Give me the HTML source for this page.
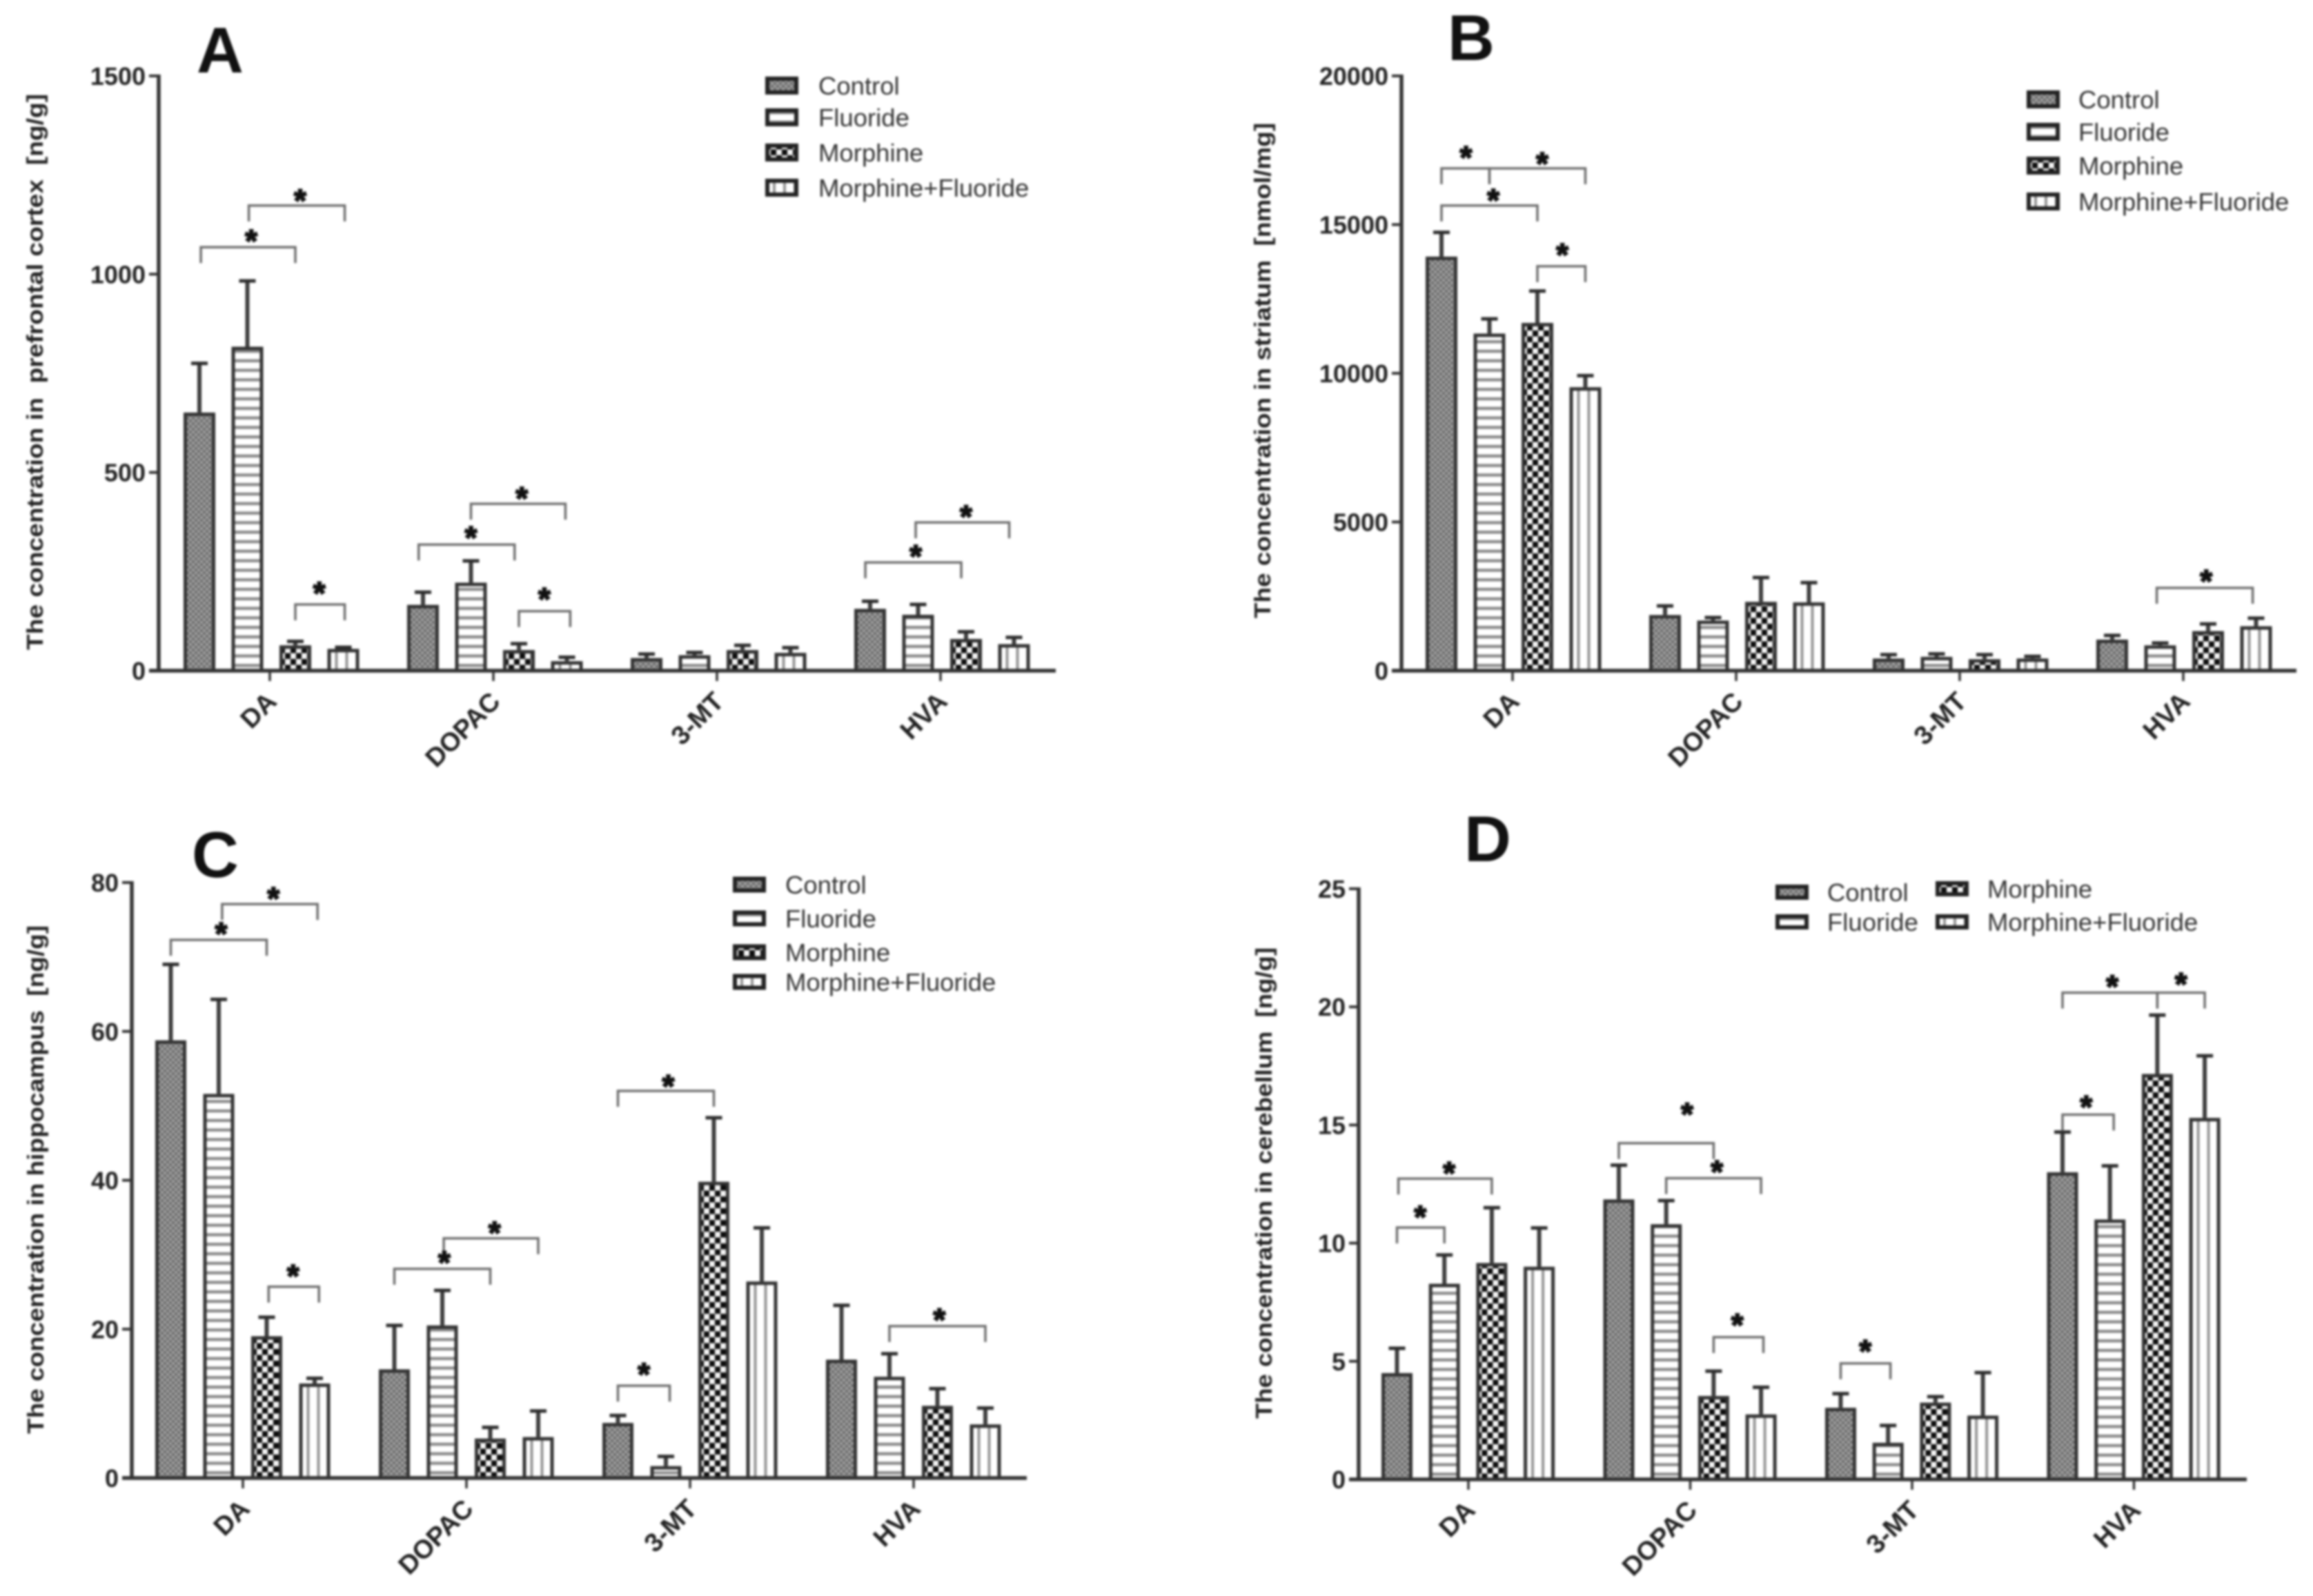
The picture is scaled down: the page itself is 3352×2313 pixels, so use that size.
<!DOCTYPE html>
<html lang="en">
<head>
<meta charset="utf-8">
<title>Monoamine concentrations by brain region</title>
<style>
html,body{margin:0;padding:0;background:#fff;width:3352px;height:2313px;overflow:hidden}
#figure{display:block;filter:blur(1.5px);font-family:"Liberation Sans",Arial,sans-serif}
</style>
</head>
<body>
<svg id="figure" xmlns="http://www.w3.org/2000/svg" width="3352" height="2313" viewBox="0 0 3352 2313">
<defs>
<pattern id="pat-control" patternUnits="userSpaceOnUse" width="8" height="8"><rect width="8" height="8" fill="#6a6a6a"/><rect width="4" height="4" fill="#a2a2a2"/><rect x="4" y="4" width="4" height="4" fill="#a2a2a2"/></pattern>
<pattern id="pat-fluoride" patternUnits="userSpaceOnUse" width="14" height="13.8"><rect width="14" height="13.8" fill="#fff"/><rect y="4" width="14" height="4.5" fill="#8a8a8a"/></pattern>
<pattern id="pat-morphine" patternUnits="userSpaceOnUse" width="16" height="17"><rect width="16" height="17" fill="#f4f4f4"/><rect width="8" height="8.5" fill="#0c0c0c"/><rect x="8" y="8.5" width="8" height="8.5" fill="#0c0c0c"/></pattern>
<pattern id="pat-morphine-fluoride" patternUnits="userSpaceOnUse" width="15" height="10"><rect width="15" height="10" fill="#fff"/><rect x="11" width="4.5" height="10" fill="#939393"/></pattern>
</defs>
</svg>
<script>
/* ---- shared categories and series ---- */
const categories = ['DA', 'DOPAC', '3-MT', 'HVA'];
const seriesNames = ['Control', 'Fluoride', 'Morphine', 'Morphine+Fluoride'];
const seriesKeys = ['control', 'fluoride', 'morphine', 'morphine-fluoride'];

/* ---- Panel A: prefrontal cortex ---- */
const aTicks = [0, 500, 1000, 1500];
const aControl = [651, 166, 32, 156];
const aFluoride = [817, 222, 39, 141];
const aMorphine = [64, 52, 52, 80];
const aMorphineFluoride = [55, 24, 45, 67];
const aControlErr = [124, 32, 10, 19];
const aFluorideErr = [166, 55, 7, 26];
const aMorphineErr = [10, 16, 12, 18];
const aMorphineFluorideErr = [4, 10, 13, 17];
/* brackets: from bar slot, to bar slot, level in axis units */
const aBrackets = [[0.03,2,1068],[1.03,3.03,1173],[2,3.03,167],[3.91,5.91,318],[5,6.97,421],[6,7.07,150],[11.9,13.9,273],[12.95,14.9,374]];
/* stars: bar slot, level in axis units */
const aStars = [[1.08,1098],[2.1,1200],[2.5,210],[5,350],[6.06,449],[6.53,195],[12.95,303],[14,403]];

/* ---- Panel B: striatum ---- */
const bTicks = [0, 5000, 10000, 15000, 20000];
const bControl = [13923, 1872, 410, 1045];
const bFluoride = [11336, 1685, 465, 852];
const bMorphine = [11694, 2315, 387, 1332];
const bMorphineFluoride = [9532, 2298, 410, 1495];
const bControlErr = [817, 307, 130, 140];
const bFluorideErr = [494, 102, 100, 78];
const bMorphineErr = [1072, 817, 153, 240];
const bMorphineFluorideErr = [391, 664, 70, 271];
const bBrackets = [[0,1,16890],[1,3,16890],[0,2,15640],[2,3,13600],[12.93,14.93,2784]];
const bStars = [[0.51,17450],[2.1,17240],[1.08,16010],[2.52,14180],[13.96,3200]];

/* ---- Panel C: hippocampus ---- */
const cTicks = [0, 20, 40, 60, 80];
const cControl = [58.8, 14.6, 7.4, 15.9];
const cFluoride = [51.6, 20.5, 1.6, 13.6];
const cMorphine = [19.05, 5.3, 39.8, 9.7];
const cMorphineFluoride = [12.7, 5.5, 26.4, 7.2];
const cControlErr = [10.2, 5.9, 1.0, 7.3];
const cFluorideErr = [12.7, 4.7, 1.3, 3.1];
const cMorphineErr = [2.55, 1.5, 8.6, 2.3];
const cMorphineFluorideErr = [0.7, 3.5, 7.2, 2.2];
const cBrackets = [[0,2,72.3],[1.07,3.06,77.1],[2.04,3.09,25.7],[4,6,28.1],[5.03,7,32.2],[8,9.08,12.4],[8,10,52],[13,15,20.4]];
const cStars = [[1.05,73.9],[2.14,78.6],[2.55,27.9],[5.04,29.7],[6.09,33.7],[8.54,14.7],[9.05,53.4],[14.04,22]];

/* ---- Panel D: cerebellum ---- */
const dTicks = [0, 5, 10, 15, 20, 25];
const dControl = [4.5, 11.85, 3.03, 13.0];
const dFluoride = [8.28, 10.8, 1.55, 11.0];
const dMorphine = [9.16, 3.53, 3.25, 17.16];
const dMorphineFluoride = [9.0, 2.75, 2.7, 15.3];
const dControlErr = [1.05, 1.45, 0.6, 1.7];
const dFluorideErr = [1.22, 1.0, 0.73, 2.27];
const dMorphineErr = [2.34, 1.05, 0.25, 2.49];
const dMorphineFluorideErr = [1.64, 1.15, 1.82, 2.63];
const dBrackets = [[0,1,10.66],[0.03,2,12.73],[4,6,14.23],[5,7,12.75],[6,7.05,6.02],[8,9.05,4.91],[12,13.08,15.44],[12,14,20.6],[14,15,20.6]];
const dStars = [[0.49,11.34],[1.1,13.2],[5.44,15.7],[6.07,13.26],[6.5,6.78],[8.52,5.66],[12.5,16.0],[13.05,21.1],[14.5,21.2]];

/* ---- panel layout (pixels and wording, kept apart from the values) ---- */
const panelA = {
  id: 'a', letter: 'A', letterX: 319, letterY: 105,
  title: 'The concentration in  prefrontal cortex  [ng/g]', titleX: 50, titleTop: 136, titleBottom: 942,
  axisX: 230, axisEnd: 1530, plotTop: 110, plotBottom: 972,
  barStart: 266, groupStep: 324, barStep: 69.5, barWidth: 46, tickOffset: 125,
  ticks: aTicks, means: [aControl, aFluoride, aMorphine, aMorphineFluoride],
  errs: [aControlErr, aFluorideErr, aMorphineErr, aMorphineFluorideErr],
  brackets: aBrackets, stars: aStars,
  legendH: 26, legend: [[1109,1186,124],[1109,1186,170],[1109,1186,221],[1109,1186,272]]
};
const panelB = {
  id: 'b', letter: 'B', letterX: 2132, letterY: 87,
  title: 'The concentration in striatum  [nmol/mg]', titleX: 1829, titleTop: 178, titleBottom: 896,
  axisX: 2031, axisEnd: 3328, plotTop: 110, plotBottom: 972,
  barStart: 2066, groupStep: 324, barStep: 69.5, barWidth: 46, tickOffset: 126,
  ticks: bTicks, means: [bControl, bFluoride, bMorphine, bMorphineFluoride],
  errs: [bControlErr, bFluorideErr, bMorphineErr, bMorphineFluorideErr],
  brackets: bBrackets, stars: bStars,
  legendH: 26, legend: [[2937,3012,144],[2937,3012,191],[2937,3012,240],[2937,3012,292]]
};
const panelC = {
  id: 'c', letter: 'C', letterX: 312, letterY: 1271,
  title: 'The concentration in hippocampus  [ng/g]', titleX: 51, titleTop: 1341, titleBottom: 2078,
  axisX: 191, axisEnd: 1488, plotTop: 1279, plotBottom: 2142,
  barStart: 225, groupStep: 324, barStep: 69.5, barWidth: 45, tickOffset: 127,
  ticks: cTicks, means: [cControl, cFluoride, cMorphine, cMorphineFluoride],
  errs: [cControlErr, cFluorideErr, cMorphineErr, cMorphineFluorideErr],
  brackets: cBrackets, stars: cStars,
  legendH: 23, legend: [[1062,1138,1282],[1062,1138,1331],[1062,1138,1380],[1062,1138,1423]]
};
const panelD = {
  id: 'd', letter: 'D', letterX: 2156, letterY: 1248,
  title: 'The concentration in cerebellum  [ng/g]', titleX: 1831, titleTop: 1373, titleBottom: 2056,
  axisX: 1969, axisEnd: 3256, plotTop: 1288, plotBottom: 2144,
  barStart: 2002, groupStep: 321.5, barStep: 68.7, barWidth: 45, tickOffset: 126,
  ticks: dTicks, means: [dControl, dFluoride, dMorphine, dMorphineFluoride],
  errs: [dControlErr, dFluorideErr, dMorphineErr, dMorphineFluorideErr],
  brackets: dBrackets, stars: dStars,
  legendH: 22, legend: [[2573,2648,1293],[2573,2648,1336],[2805,2880,1288],[2805,2880,1336]]
};

const SVG_NS = 'http://www.w3.org/2000/svg';
const root = document.getElementById('figure');
const DARK = '#333';

function make(tag, attrs, parent) {
  const node = document.createElementNS(SVG_NS, tag);
  for (const k in attrs) node.setAttribute(k, attrs[k]);
  parent.appendChild(node);
  return node;
}

function drawPanel(p) {
  const g = make('g', {}, root);
  
  

  const yMax = p.ticks[p.ticks.length - 1];
  const yScale = v => p.plotBottom - (v / yMax) * (p.plotBottom - p.plotTop);
  const barLeft = (gi, si) => p.barStart + gi * p.groupStep + si * p.barStep;
  const slotX = slot => {
    const gi = Math.floor((slot + 0.5) / 4);
    return barLeft(gi, slot - 4 * gi) + p.barWidth / 2;
  };

  /* panel letter */
  const letter = make('text', {x: p.letterX, y: p.letterY, 'text-anchor': 'middle', 'font-size': 94, 'font-weight': 'bold', fill: '#111'}, g);
  letter.textContent = p.letter;
  
  

  /* y axis title */
  const titleCy = (p.titleTop + p.titleBottom) / 2;
  const title = make('text', {
    transform: 'translate(' + (p.titleX + 12) + ',' + titleCy + ') rotate(-90)',
    'text-anchor': 'middle', 'font-size': 33, 'font-weight': 'bold', fill: '#222',
    textLength: p.titleBottom - p.titleTop, lengthAdjust: 'spacingAndGlyphs', style: 'white-space:pre'
  }, g);
  title.textContent = p.title;
  
  

  /* bars and error bars */
  p.means.forEach((values, si) => {
    values.forEach((v, gi) => {
      const left = barLeft(gi, si);
      const cx = left + p.barWidth / 2;
      const top = yScale(v);
      const upper = yScale(v + p.errs[si][gi]);

      const stem = make('line', {x1: cx, x2: cx, y1: top, y2: upper, stroke: '#3c3c3c', 'stroke-width': 6}, g);
      
      

      const cap = make('line', {x1: cx - 12, x2: cx + 12, y1: upper, y2: upper, stroke: '#2c2c2c', 'stroke-width': 5}, g);
      
      

      const innerTop = top + 2.5;
      const bar = make('rect', {
        transform: 'translate(' + left + ',' + p.plotBottom + ')',
        x: 2.5, y: innerTop - p.plotBottom, width: p.barWidth - 5, height: Math.max(0, p.plotBottom - innerTop),
        fill: 'url(#pat-' + seriesKeys[si] + ')', stroke: DARK, 'stroke-width': 5
      }, g);
      
      
    });
  });

  /* y axis */
  const yAxis = make('line', {x1: p.axisX, x2: p.axisX, y1: p.plotTop - 2, y2: p.plotBottom + 2, stroke: DARK, 'stroke-width': 5.5}, g);
  
  

  p.ticks.forEach(t => {
    const ty = yScale(t);
    const tick = make('line', {x1: p.axisX - 14, x2: p.axisX, y1: ty, y2: ty, stroke: DARK, 'stroke-width': 4}, g);
    
    
    const label = make('text', {x: p.axisX - 19, y: ty + 13, 'text-anchor': 'end', 'font-size': 36, 'font-weight': 'bold', fill: '#222'}, g);
    label.textContent = t;
    
    
  });

  /* x axis */
  const xAxis = make('line', {x1: p.axisX - 14, x2: p.axisEnd, y1: p.plotBottom, y2: p.plotBottom, stroke: DARK, 'stroke-width': 5.5}, g);
  
  

  categories.forEach((cat, gi) => {
    const tx = p.barStart + gi * p.groupStep + p.tickOffset;
    const tick = make('line', {x1: tx, x2: tx, y1: p.plotBottom, y2: p.plotBottom + 15, stroke: DARK, 'stroke-width': 3.5}, g);
    
    
    const label = make('text', {
      transform: 'translate(' + (tx + 12) + ',' + (p.plotBottom + 47) + ') rotate(-45)',
      'text-anchor': 'end', 'font-size': 38, 'font-weight': 'bold', fill: '#222'
    }, g);
    label.textContent = cat;
    
    
  });

  /* significance brackets */
  p.brackets.forEach(b => {
    const x1 = slotX(b[0]), x2 = slotX(b[1]), y = yScale(b[2]);
    const br = make('path', {
      d: 'M' + x1 + ' ' + (y + 23) + 'V' + y + 'H' + x2 + 'V' + (y + 23),
      fill: 'none', stroke: '#6e6e6e', 'stroke-width': 3.5
    }, g);
    
    
  });
  p.stars.forEach(s => {
    const star = make('text', {x: slotX(s[0]), y: yScale(s[1]) + 24, 'text-anchor': 'middle', 'font-size': 46, 'font-weight': 'bold', fill: '#111', stroke: '#111', 'stroke-width': 2}, g);
    star.textContent = '*';
    
    
  });

  /* legend */
  const legend = make('g', {}, g);
  
  
  p.legend.forEach((row, si) => {
    const swatch = make('rect', {
      transform: 'translate(' + row[0] + ',' + (row[2] - p.legendH / 2) + ')',
      x: 3, y: 3, width: 42, height: p.legendH - 6,
      fill: 'url(#pat-' + seriesKeys[si] + ')', stroke: '#222', 'stroke-width': 6
    }, legend);
    
    
    const text = make('text', {x: row[1], y: row[2] + 13, 'font-size': 36.5, fill: '#333'}, legend);
    text.textContent = seriesNames[si];
    
    
  });
}

[panelA, panelB, panelC, panelD].forEach(drawPanel);
</script>
</body>
</html>
